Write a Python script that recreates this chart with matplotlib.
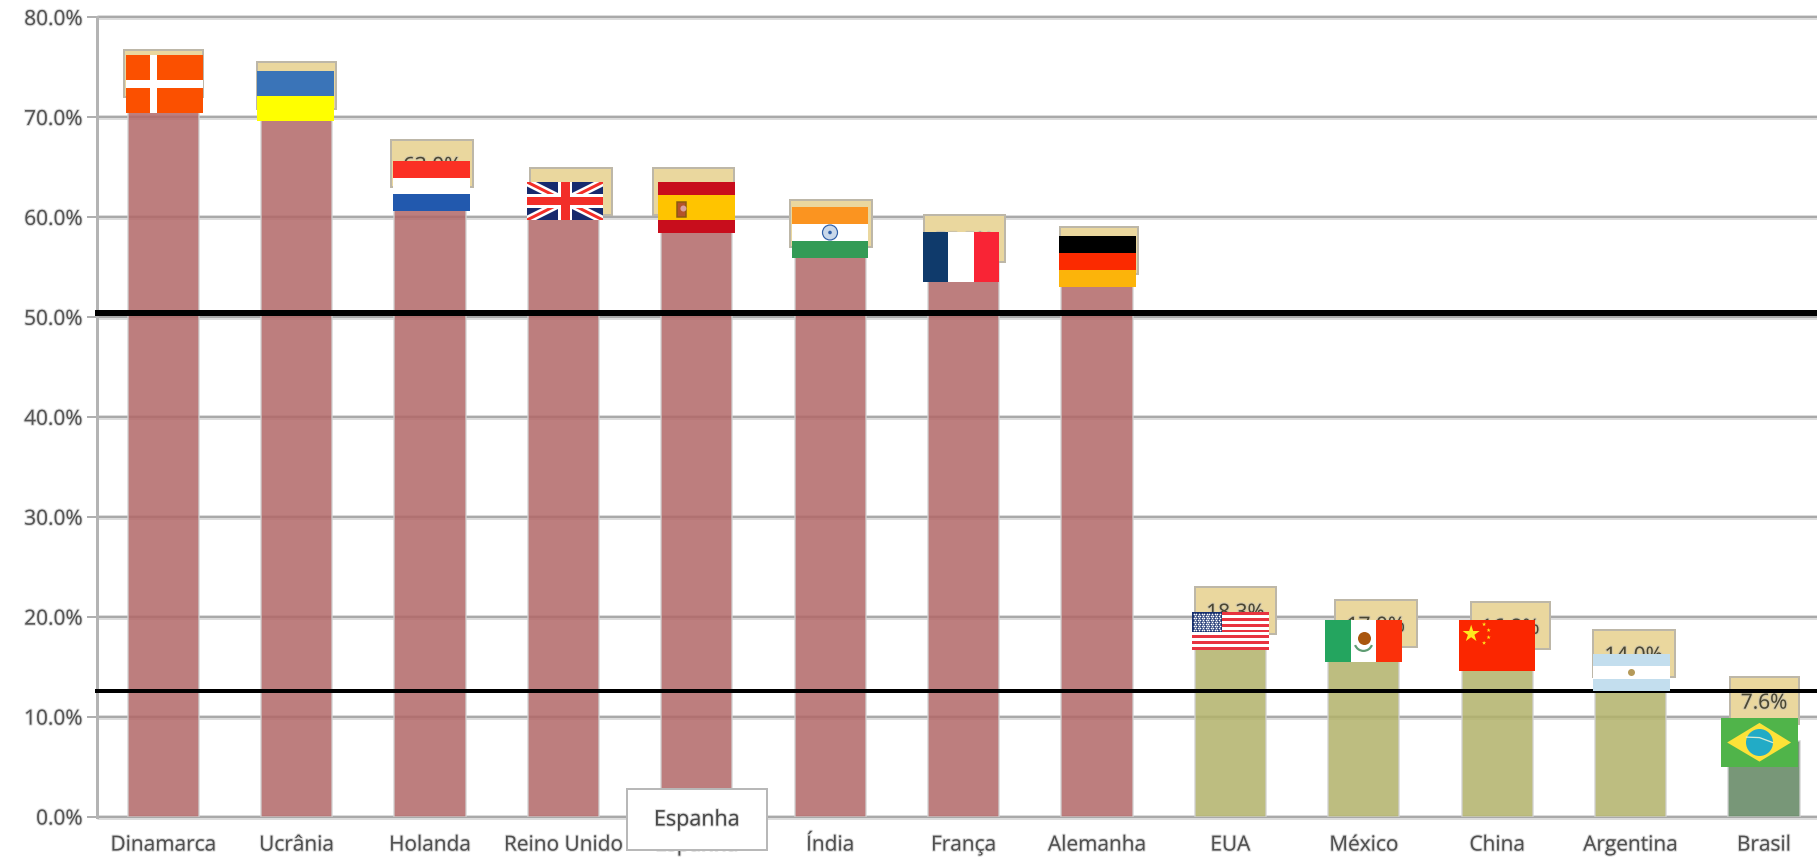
import matplotlib
matplotlib.use('Agg')
import matplotlib.pyplot as plt
import matplotlib.patheffects as pe
from matplotlib.patches import Rectangle, Polygon, Circle, Wedge
from matplotlib.ticker import FuncFormatter
import math

plt.rcParams['font.family'] = ['Open Sans', 'DejaVu Sans']

countries = ['Dinamarca', 'Ucrânia', 'Holanda', 'Reino Unido', 'Espanha', 'Índia', 'França',
             'Alemanha', 'EUA', 'México', 'China', 'Argentina', 'Brasil']
values = [72.0, 70.8, 63.0, 60.2, 60.2, 57.0, 55.5, 54.3, 18.3, 17.0, 16.8, 14.0, 7.6]
labels = ['72.0%', '70.8%', '63.0%', '60.2%', '60.2%', '57.0%', '55.5%', '54.3%',
          '18.3%', '17.0%', '16.8%', '14.0%', '7.6%']
bar_colors = ['#B26868'] * 8 + ['#B2B26A'] * 4 + ['#618561']
yticks = [0, 10, 20, 30, 40, 50, 60, 70, 80]
upper_line = 50.4
lower_line = 12.6

W, H = 1817, 860
fig = plt.figure(figsize=(W / 100, H / 100), dpi=100)
px = 0.72  # one pixel in points

x_left = 96.5
cat_w = 133.4
y_top, y_bot = 17, 816.5
ax = fig.add_axes([x_left / W, 1 - y_bot / H, 1 - x_left / W, (y_bot - y_top) / H])
ax.set_xlim(-0.5, (W - x_left) / cat_w - 0.5)
ax.set_ylim(0, 80)

soft = [pe.withStroke(linewidth=1.6, foreground='#b5b5b5', alpha=0.5)]

# grid, drawn twice so it looks a bit blurred like the screenshot
ax.hlines(yticks, -0.5, 13, color='#dcdcdc', lw=5 * px, zorder=1, clip_on=False)
ax.hlines(yticks, -0.5, 13, color='#a9a9a9', lw=2 * px, zorder=1.1, clip_on=False)

ax.bar(range(len(values)), values, width=0.535, color=bar_colors, alpha=0.85,
       edgecolor='#d0d0d0', linewidth=1.5 * px, zorder=2)

# value labels, they sit in a sand coloured box on top of the bar
box_shift = [0, 0, 2, 8, -3.5, 1, 0.5, 2, 5, 12, 13, 3, 0]
box_lift = [0, 0, 0, 0, 0, 0, 0, 0, 0, 0, 0, 0, 9.3 - 7.6]
box_width = [79, 79, 82, 82, 81, 82, 81, 78, 81, 82, 79, 82, 69]
box_h = 4.7
for i, v in enumerate(values):
    bx = i + box_shift[i] / cat_w
    bw = box_width[i] / cat_w
    by = v + box_lift[i]
    ax.add_patch(Rectangle((bx - bw / 2, by), bw, box_h, fc='#EAD79E', ec='#bdb7a8',
                           lw=2 * px, zorder=3))
    ax.text(bx, by + box_h / 2 - 0.3, labels[i], ha='center', va='center', fontsize=15,
            color='#4a4630', zorder=3.1, path_effects=soft)

ax.hlines(upper_line, -0.51, 13, color='black', lw=6 * px, zorder=4, clip_on=False)
ax.hlines(lower_line, -0.51, 13, color='black', lw=4 * px, zorder=4, clip_on=False)

for s in ['top', 'right', 'bottom']:
    ax.spines[s].set_visible(False)
ax.spines['left'].set_color('#b4b4b4')
ax.spines['left'].set_linewidth(3 * px)
ax.patch.set_alpha(0)

ax.set_yticks(yticks)
ax.yaxis.set_major_formatter(FuncFormatter(lambda v, p: '%.1f%%' % v))
ax.tick_params(axis='y', length=10 * px, width=2 * px, color='#b0b0b0', pad=3,
               labelsize=15, labelcolor='#555555')
ax.set_xticks(range(len(countries)))
ax.set_xticklabels(countries)
ax.tick_params(axis='x', length=0, pad=13, labelsize=15, labelcolor='#505050')
for t in ax.get_xticklabels() + ax.get_yticklabels():
    t.set_path_effects(soft)

# overlay in pixel coordinates for the pasted flags and the tooltip
ov = fig.add_axes([0, 0, 1, 1])
ov.set_xlim(0, W)
ov.set_ylim(H, 0)
ov.axis('off')
ov.patch.set_alpha(0)


def rect(x0, y0, x1, y1, c, z=5):
    p = Rectangle((x0, y0), x1 - x0, y1 - y0, fc=c, ec='none', zorder=z)
    ov.add_patch(p)
    return p


def hstripes(box, cols):
    x0, y0, x1, y1 = box
    h = (y1 - y0) / len(cols)
    for k, c in enumerate(cols):
        rect(x0, y0 + k * h, x1, y0 + (k + 1) * h, c)


def vstripes(box, cols):
    x0, y0, x1, y1 = box
    w = (x1 - x0) / len(cols)
    for k, c in enumerate(cols):
        rect(x0 + k * w, y0, x0 + (k + 1) * w, y1, c)


def denmark(box):
    x0, y0, x1, y1 = box
    w, h = x1 - x0, y1 - y0
    rect(*box, '#FB5000')
    rect(x0 + .31 * w, y0, x0 + .40 * w, y1, 'white', 5.1)
    rect(x0, y0 + .43 * h, x1, y0 + .57 * h, 'white', 5.1)


def uk(box):
    x0, y0, x1, y1 = box
    clip = rect(*box, '#162A6E')
    cx, cy = (x0 + x1) / 2, (y0 + y1) / 2
    for (a, b) in [((x0, y0), (x1, y1)), ((x0, y1), (x1, y0))]:
        ln, = ov.plot([a[0], b[0]], [a[1], b[1]], color='white', lw=8 * px, zorder=5.1,
                      solid_capstyle='butt')
        ln.set_clip_path(clip)
        ln, = ov.plot([a[0], b[0]], [a[1], b[1]], color='#F22E28', lw=3 * px, zorder=5.2,
                      solid_capstyle='butt')
        ln.set_clip_path(clip)
    rect(cx - 7, y0, cx + 7, y1, 'white', 5.3)
    rect(x0, cy - 7, x1, cy + 7, 'white', 5.3)
    rect(cx - 4.5, y0, cx + 4.5, y1, '#F22E28', 5.4)
    rect(x0, cy - 4, x1, cy + 4, '#F22E28', 5.4)


def spain(box):
    x0, y0, x1, y1 = box
    w, h = x1 - x0, y1 - y0
    rect(*box, '#C80D1C')
    rect(x0, y0 + .25 * h, x1, y0 + .75 * h, '#FFC400', 5.1)
    ov.add_patch(Rectangle((x0 + .25 * w, y0 + .4 * h), .12 * w, .28 * h, fc='#B5532A', ec='#8a5a10',
                           lw=1.5 * px, zorder=5.2))
    ov.add_patch(Circle((x0 + .33 * w, y0 + .52 * h), 3, fc='#D9A0A0', ec='none', zorder=5.3))


def india(box):
    x0, y0, x1, y1 = box
    hstripes(box, ['#FB9420', 'white', '#339B56'])
    c = ((x0 + x1) / 2, (y0 + y1) / 2)
    ov.add_patch(Circle(c, 7.5, fc='#C9D8EA', ec='#2F5FA8', lw=1.2 * px, zorder=5.2))
    ov.add_patch(Circle(c, 1.8, fc='#2F5FA8', ec='none', zorder=5.3))


def usa(box):
    x0, y0, x1, y1 = box
    w, h = x1 - x0, y1 - y0
    hstripes(box, ['#E8333F', 'white'] * 6 + ['#E8333F'])
    rect(x0, y0, x0 + .39 * w, y0 + 7 / 13 * h, '#17306F', 5.1)
    xs, ys = [], []
    for r in range(9):
        for c in range(11 if r % 2 == 0 else 10):
            xs.append(x0 + (c + 0.7 + (0.5 if r % 2 else 0)) * .39 * w / 11.5)
            ys.append(y0 + (r + 0.8) * (7 / 13 * h) / 10)
    ov.scatter(xs, ys, s=1.6, color='white', lw=0, zorder=5.2)


def mexico(box):
    x0, y0, x1, y1 = box
    vstripes(box, ['#24A55F', 'white', '#FB300A'])
    cx, cy = (x0 + x1) / 2, (y0 + y1) / 2
    ov.add_patch(Wedge((cx, cy + 1), 10, 20, 160, width=2.2, fc='#5E9C72', ec='none', zorder=5.2))
    ov.add_patch(Circle((cx + 1, cy - 2.5), 6.5, fc='#A9560E', ec='none', zorder=5.3))


def star(cx, cy, r):
    pts = []
    for k in range(10):
        rr = r if k % 2 == 0 else r * 0.38
        a = -math.pi / 2 + k * math.pi / 5
        pts.append((cx + rr * math.cos(a), cy + rr * math.sin(a)))
    ov.add_patch(Polygon(pts, fc='#FFE81E', ec='none', zorder=5.2))


def china(box):
    x0, y0, x1, y1 = box
    w, h = x1 - x0, y1 - y0
    rect(*box, '#FB2600')
    star(x0 + .16 * w, y0 + .27 * h, 9)
    for fx, fy in [(.33, .085), (.39, .2), (.39, .34), (.33, .45)]:
        star(x0 + fx * w, y0 + fy * h, 2.2)


def argentina(box):
    x0, y0, x1, y1 = box
    hstripes(box, ['#C3DEEE', 'white', '#C3DEEE'])
    ov.add_patch(Circle(((x0 + x1) / 2, (y0 + y1) / 2), 3.5, fc='#B59A5A', ec='none', zorder=5.2))


def brazil(box):
    x0, y0, x1, y1 = box
    w, h = x1 - x0, y1 - y0
    rect(*box, '#50B44A')
    ov.add_patch(Polygon([(x0 + .08 * w, y0 + .5 * h), (x0 + .5 * w, y0 + .1 * h),
                          (x0 + .91 * w, y0 + .5 * h), (x0 + .5 * w, y0 + .89 * h)],
                         fc='#FDE238', ec='none', zorder=5.1))
    ov.add_patch(Circle((x0 + .5 * w, y0 + .5 * h), 13.5, fc='#22ABC6', ec='none', zorder=5.2))
    ov.plot([x0 + .33 * w, x0 + .5 * w, x0 + .67 * w], [y0 + .39 * h, y0 + .4 * h, y0 + .5 * h],
            color='#d5ecd5', lw=1.3 * px, zorder=5.3)


denmark((126, 55, 203, 113))
hstripes((257, 71, 334, 121), ['#3A74B8', '#FFFF00'])
hstripes((393, 161, 470, 211), ['#FB3024', 'white', '#2259AE'])
uk((527, 182, 603, 220))
spain((658, 182, 735, 233))
india((792, 207, 868, 258))
vstripes((923, 232, 999, 282), ['#0F3A6B', 'white', '#F92435'])
hstripes((1059, 236, 1136, 287), ['black', '#FB2A00', '#FCB40A'])
usa((1192, 612, 1269, 650))
mexico((1325, 620, 1402, 662))
china((1459, 620, 1535, 671))
argentina((1593, 654, 1670, 691))
brazil((1721, 718, 1798, 767))

# tooltip hovering over the Espanha category
ov.add_patch(Rectangle((627, 789), 140, 61, fc='white', ec='#b8b8b8', lw=2 * px, zorder=6))
ov.text(697, 820, 'Espanha', ha='center', va='center', fontsize=15.5, color='#484848', zorder=6.1,
        path_effects=soft)

fig.savefig('out.png', dpi=100)
